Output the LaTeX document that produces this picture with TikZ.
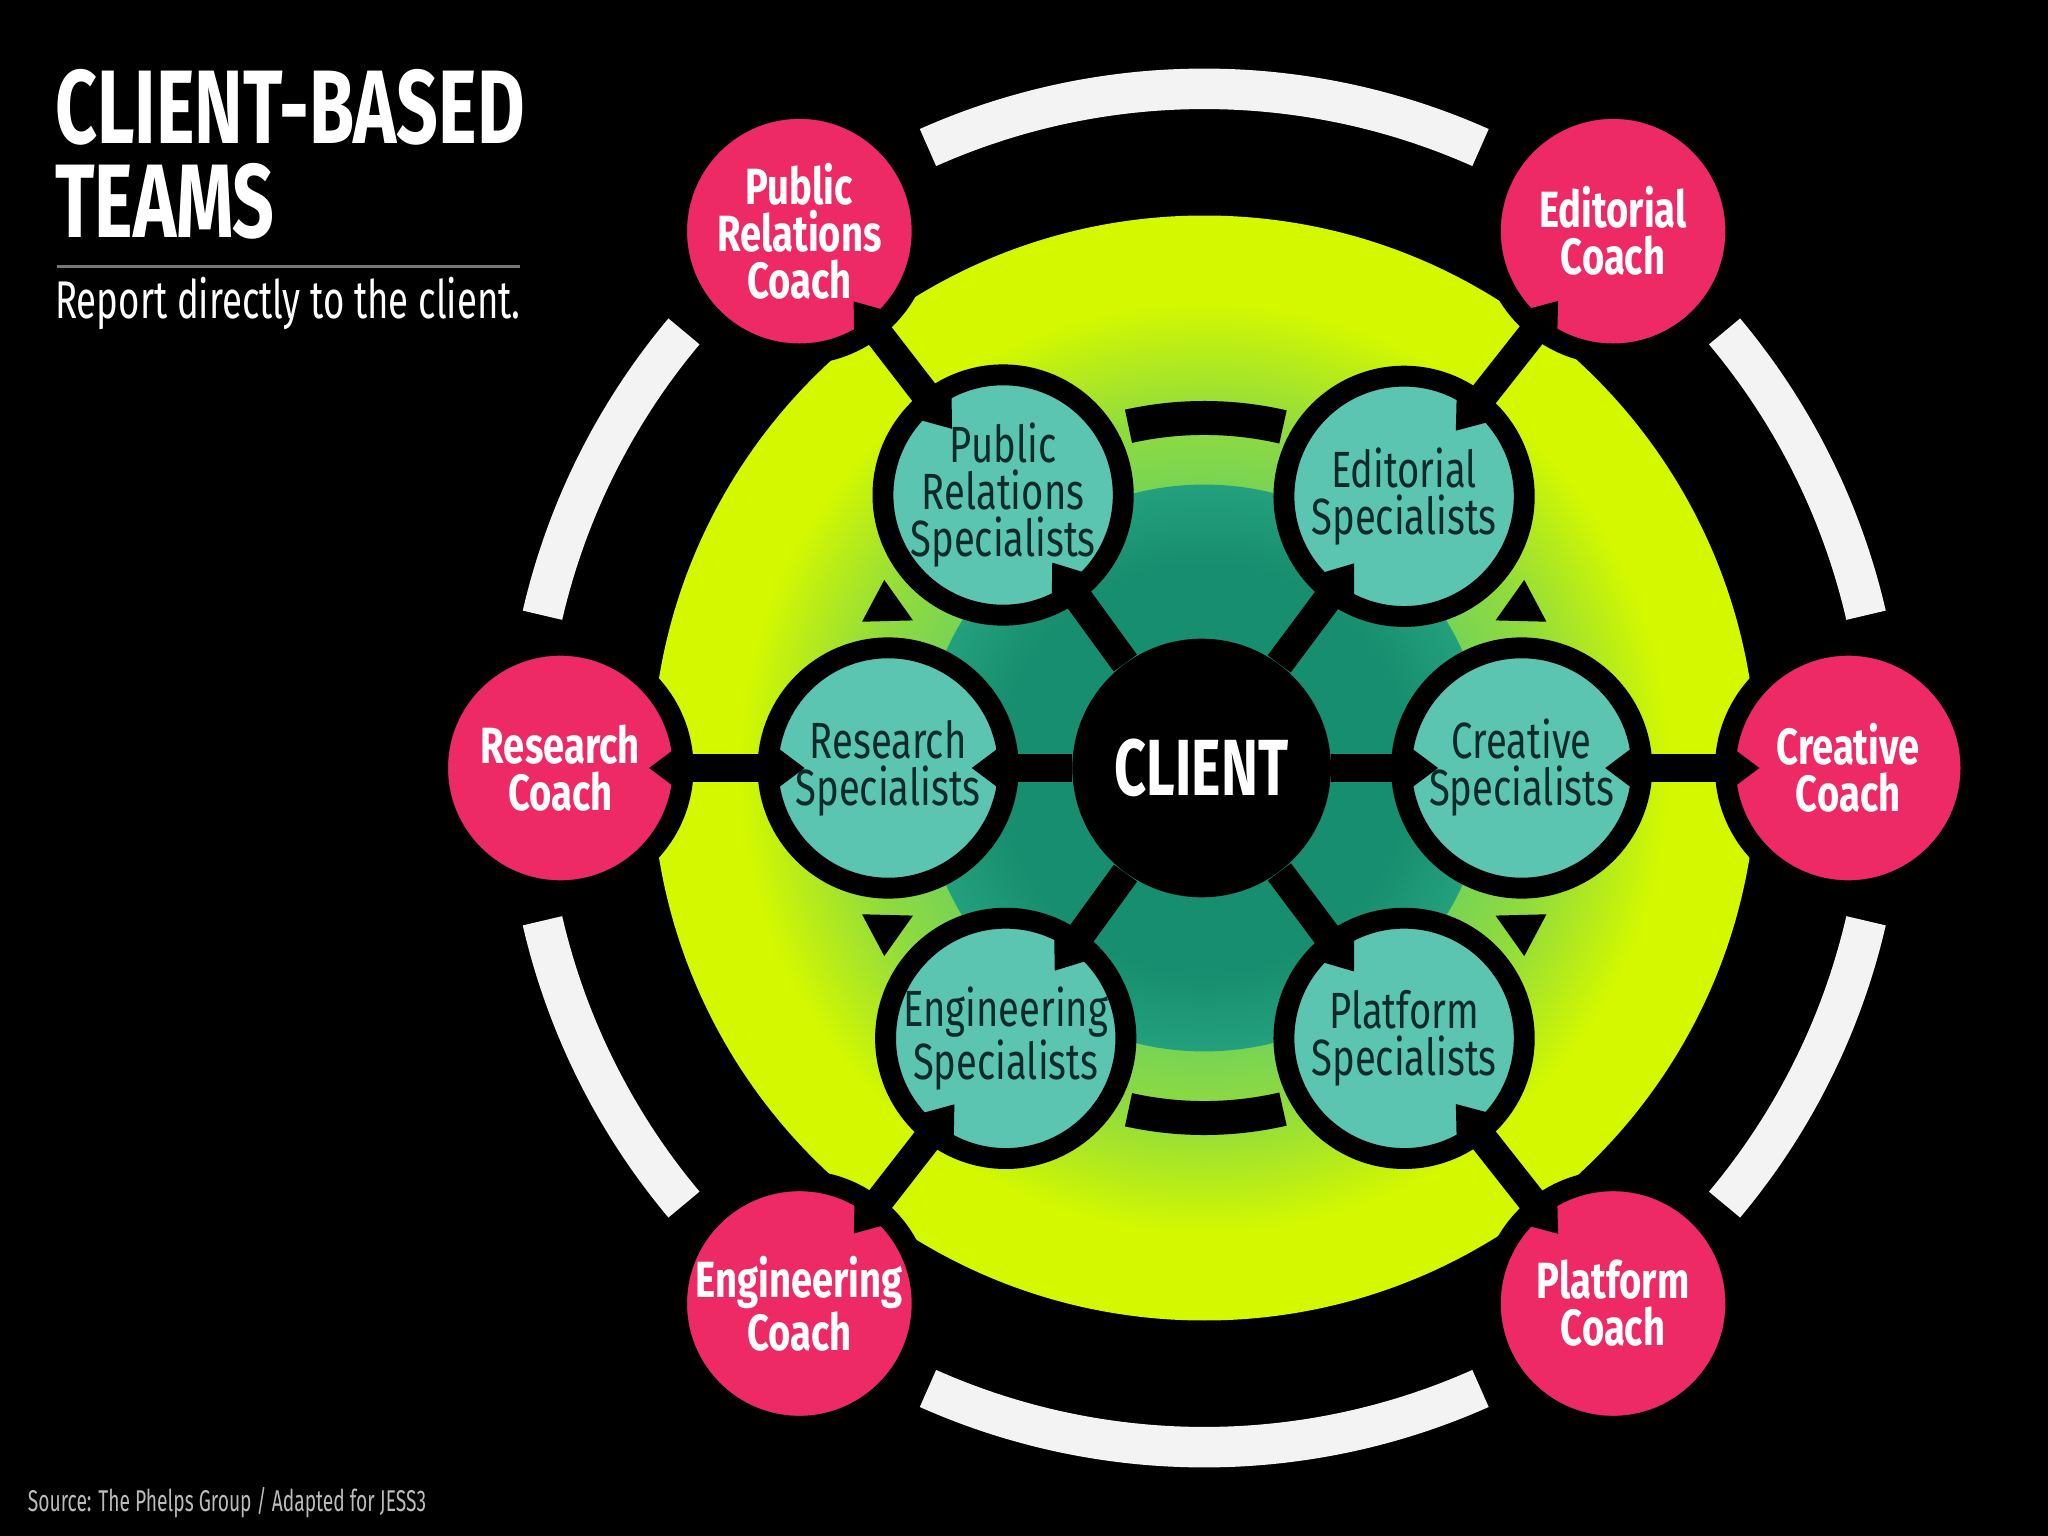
\documentclass[tikz,border=0pt]{standalone}
\usepackage{fontspec}
\usetikzlibrary{arrows.meta}
\newfontfamily\cf[FakeStretch=0.75]{Fira Sans}
\newfontfamily\cfs[FakeStretch=0.69]{Fira Sans}
\newfontfamily\cfx[FakeStretch=0.64]{Fira Sans}
\newfontfamily\cft[FakeStretch=0.70]{Fira Sans}
\definecolor{pinkc}{HTML}{EE2A66}
\definecolor{tealc}{HTML}{5BC5B1}
\definecolor{tealD1}{HTML}{178E6F}
\definecolor{tealD2}{HTML}{24A07D}
\definecolor{limeA}{HTML}{72D25A}
\definecolor{limeB}{HTML}{92DC3C}
\definecolor{limeC}{HTML}{D3F800}
\definecolor{ringw}{HTML}{F3F3F3}
\definecolor{spectext}{HTML}{0E2B29}
\definecolor{srcgray}{HTML}{BBBBBB}
\definecolor{rulegray}{HTML}{777777}
\pgfdeclareradialshading{limeshade}{\pgfpoint{0bp}{0bp}}{color(0bp)=(limeA); color(12bp)=(limeA); color(16bp)=(limeB); color(21bp)=(limeC); color(25bp)=(limeC); color(50bp)=(limeC)}
\pgfdeclareradialshading{tealshade}{\pgfpoint{0bp}{0bp}}{color(0bp)=(tealD1); color(18bp)=(tealD1); color(25bp)=(tealD2); color(50bp)=(tealD2)}
\begin{document}
\begin{tikzpicture}[x=0.5pt,y=-0.5pt,
  specnode/.style={circle, draw=black, line width=8pt, fill=tealc, minimum size=92pt, inner sep=0pt, align=center, text=spectext, font=\cf\fontsize{19.5pt}{18pt}\selectfont},
  coachnode/.style={circle, draw=black, line width=8pt, fill=pinkc, minimum size=94pt, inner sep=0pt, align=center, text=white, font=\cf\bfseries\fontsize{19.5pt}{18pt}\selectfont},
  clientnode/.style={circle, fill=black, minimum size=99pt, inner sep=0pt, text=white, font=\cft\bfseries\fontsize{30.5pt}{30pt}\selectfont},
  spoke/.style={line width=11pt, -{Triangle[width=18pt,length=12pt,line width=0pt]}, shorten >=-18pt},
  link/.style={line width=11pt, {Triangle[width=18pt,length=12pt,line width=0pt]}-{Triangle[width=18pt,length=12pt,line width=0pt]}, shorten <=-17pt, shorten >=-18pt},
  wring/.style={draw=ringw, line width=15.5pt},
  mring/.style={draw=black, line width=13pt},
  tri/.style={fill=black},
]
\fill[black] (0,0) rectangle (1568,1176);
\useasboundingbox (0,0) rectangle (1568,1176);
\coordinate (C) at (922,588);

% outer white ring
\draw[wring] ([shift={(246:520)}]C) arc[start angle=246, end angle=294, radius=520];
\draw[wring] ([shift={(66:520)}]C) arc[start angle=66, end angle=114, radius=520];
\draw[wring] ([shift={(193:520)}]C) arc[start angle=193, end angle=220, radius=520];
\draw[wring] ([shift={(140:520)}]C) arc[start angle=140, end angle=167, radius=520];
\draw[wring] ([shift={(320:520)}]C) arc[start angle=320, end angle=347, radius=520];
\draw[wring] ([shift={(13:520)}]C) arc[start angle=13, end angle=40, radius=520];

% lime disc and dark teal disc
\shade[shading=limeshade] (C) circle[radius=423];
\shade[shading=tealshade] (C) circle[radius=217];

% middle black ring pieces and arrowheads
\draw[mring] ([shift={(257.5:268)}]C) arc[start angle=257.5, end angle=283, radius=268];
\draw[mring] ([shift={(77:268)}]C) arc[start angle=77, end angle=102.5, radius=268];
\fill[tri] (660,476) -- (699,475) -- (677,444) -- cycle;
\fill[tri] (1184,476) -- (1145,475) -- (1167,444) -- cycle;
\fill[tri] (660,700) -- (699,701) -- (677,732) -- cycle;
\fill[tri] (1184,700) -- (1145,701) -- (1167,732) -- cycle;

% nodes
\node[clientnode] (client) at (920,588) {CLIENT};
\node[specnode] (prs) at (768,379) {Public\\Relations\\Specialists};
\node[specnode] (eds) at (1075,380) {Editorial\\Specialists};
\node[specnode] (res) at (680,588) {Research\\Specialists};
\node[specnode] (crs) at (1165,588) {Creative\\Specialists};
\node[specnode] (ens) at (770,795) {Engineering\\Specialists};
\node[specnode] (pls) at (1075,795) {Platform\\Specialists};
\node[coachnode] (prc) at (612,177) {Public\\Relations\\Coach};
\node[coachnode] (edc) at (1235,177) {Editorial\\Coach};
\node[coachnode] (rec) at (429,588) {Research\\Coach};
\node[coachnode] (crc) at (1415,588) {Creative\\Coach};
\node[coachnode] (enc) at (612,998) {Engineering\\Coach};
\node[coachnode] (plc) at (1235,998) {Platform\\Coach};

% connectors
\foreach \s in {prs,eds,res,crs,ens,pls} \draw[spoke] (client) -- (\s);
\draw[link] (prc) -- (prs);
\draw[link] (edc) -- (eds);
\draw[link] (rec) -- (res);
\draw[link] (crc) -- (crs);
\draw[link] (enc) -- (ens);
\draw[link] (plc) -- (pls);

% title block
\node[anchor=base west, inner sep=0pt, align=left, text=white, font=\cft\bfseries\fontsize{40pt}{36pt}\selectfont] (title) at (42,182) {CLIENT-BASED\\TEAMS};
\draw[rulegray, line width=1pt] (44,204) -- (398,204);
\node[anchor=base west, inner sep=0pt, text=white, font=\cfs\fontsize{20.3pt}{20pt}\selectfont] (sub) at (42,244) {Report directly to the client.};
\node[anchor=base west, inner sep=0pt, text=srcgray, font=\cfx\fontsize{11.5pt}{12pt}\selectfont] (src) at (21,1157) {Source: The Phelps Group / Adapted for JESS3};
\end{tikzpicture}
\end{document}
